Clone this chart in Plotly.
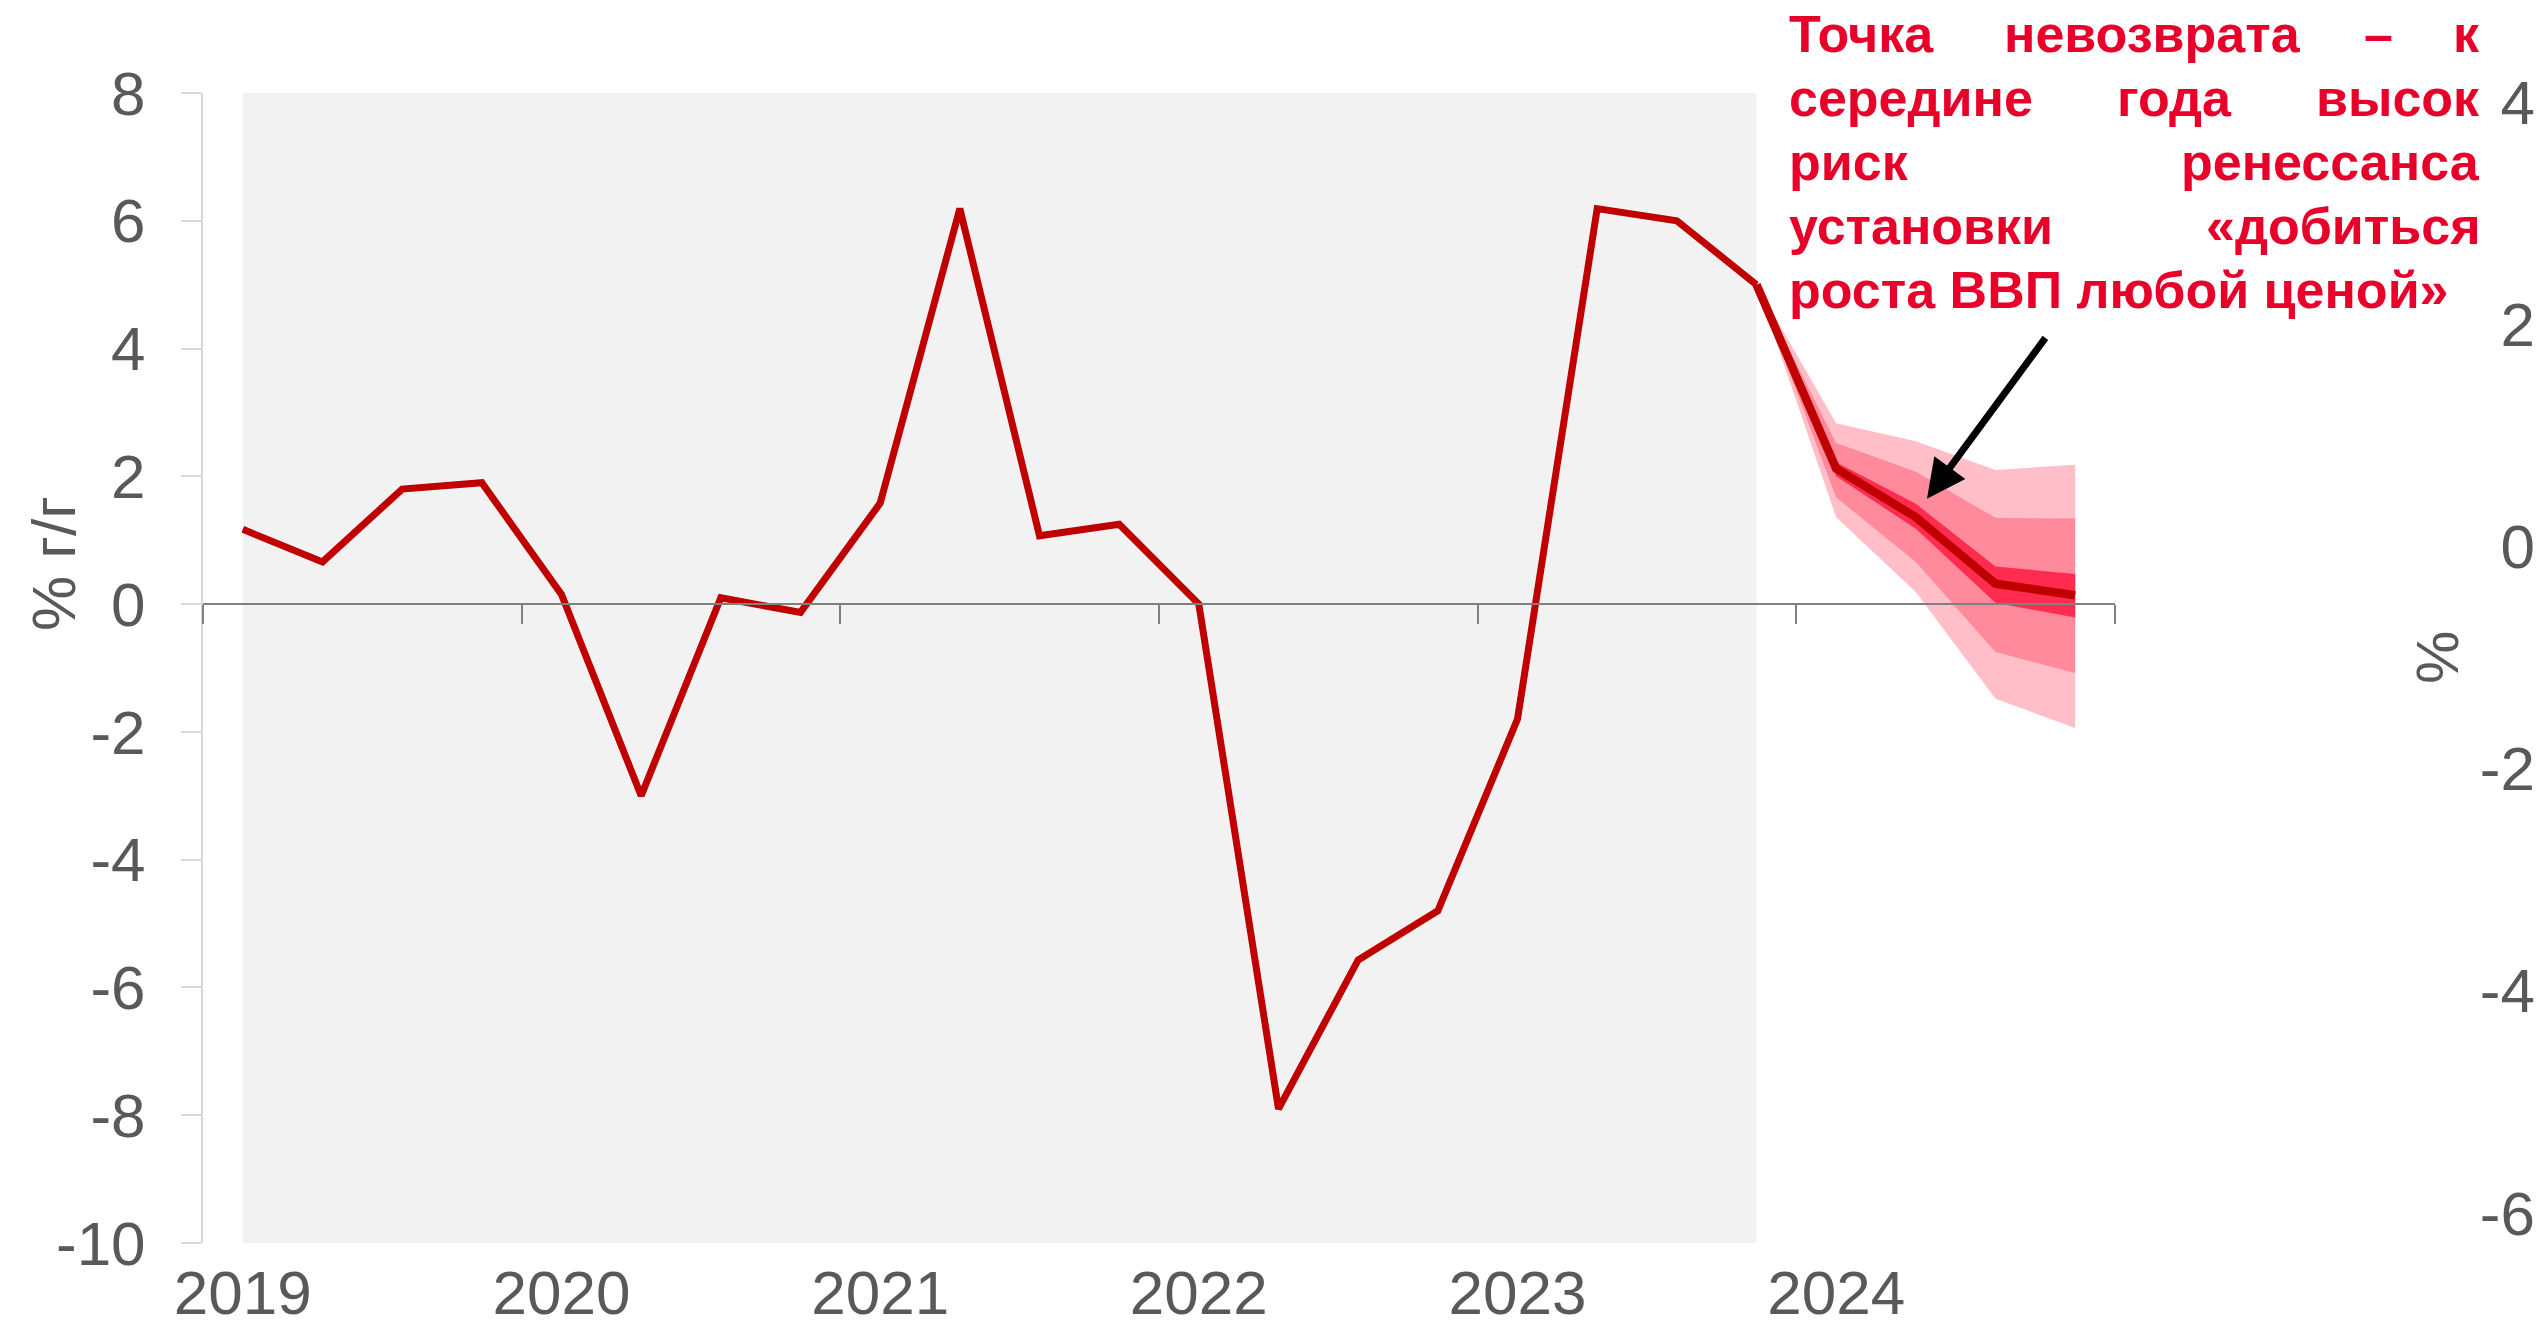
import plotly.graph_objects as go

# ---- data -------------------------------------------------------------
quarters = [
    "2019Q1", "2019Q2", "2019Q3", "2019Q4",
    "2020Q1", "2020Q2", "2020Q3", "2020Q4",
    "2021Q1", "2021Q2", "2021Q3", "2021Q4",
    "2022Q1", "2022Q2", "2022Q3", "2022Q4",
    "2023Q1", "2023Q2", "2023Q3", "2023Q4",
    "2024Q1", "2024Q2", "2024Q3", "2024Q4",
]
year_labels = ["2019", "2020", "2021", "2022", "2023", "2024"]

# GDP growth, % y/y (actual)
gdp_actual = [1.17, 0.66, 1.80, 1.90, 0.15, -3.00, 0.10, -0.13,
              1.58, 6.19, 1.07, 1.25, 0.00, -7.90, -5.57, -4.80,
              -1.80, 6.19, 6.00, 5.00]

# forecast fan, starting from the last actual quarter
forecast_quarters = ["2023Q4", "2024Q1", "2024Q2", "2024Q3", "2024Q4"]
fc_central = [5.0, 2.12, 1.36, 0.32, 0.14]
fc_inner_hi = [5.0, 2.22, 1.57, 0.59, 0.47]
fc_inner_lo = [5.0, 2.00, 1.18, 0.02, -0.21]
fc_mid_hi = [5.0, 2.52, 2.07, 1.35, 1.34]
fc_mid_lo = [5.0, 1.67, 0.66, -0.75, -1.08]
fc_outer_hi = [5.0, 2.83, 2.55, 2.10, 2.18]
fc_outer_lo = [5.0, 1.36, 0.19, -1.48, -1.94]

left_ticks = [-10, -8, -6, -4, -2, 0, 2, 4, 6, 8]
left_range = [-10, 8]
right_ticks = [-6, -4, -2, 0, 2, 4]
right_range = [-6.27, 4.08]

note_lines = [
    ["Точка", "невозврата", "–", "к"],
    ["середине", "года", "высок"],
    ["риск", "ренессанса"],
    ["установки", "«добиться"],
    ["роста ВВП любой ценой»"],
]

# ---- styling ----------------------------------------------------------
FONT = "Liberation Sans, Arial, sans-serif"
GREY_TXT = "#595959"
LINE_RED = "#C00000"
NOTE_RED = "#E8002B"
C_OUTER = "#FFBEC8"
C_MID = "#FF8A9B"
C_INNER = "#FF2C4F"

W, H = 2541, 1329
PLOT_L, PLOT_R, PLOT_T, PLOT_B = 203, 2115, 93, 1243
PAPER_W = W - PLOT_L
PAPER_H = PLOT_B - PLOT_T


def px(x):
    return (x - PLOT_L) / PAPER_W


def py(y):
    return (PLOT_B - y) / PAPER_H


def tick_text(values):
    # plain hyphen-minus for negative labels
    return [str(v) for v in values]


pos = {q: i for i, q in enumerate(quarters)}
x_hist = [pos[q] for q in quarters[:len(gdp_actual)]]
x_fc = [pos[q] for q in forecast_quarters]

fig = go.Figure()

# fan bands: widest first
for hi, lo, col in [(fc_outer_hi, fc_outer_lo, C_OUTER),
                    (fc_mid_hi, fc_mid_lo, C_MID),
                    (fc_inner_hi, fc_inner_lo, C_INNER)]:
    fig.add_trace(go.Scatter(
        x=x_fc + x_fc[::-1], y=hi + lo[::-1],
        fill="toself", fillcolor=col, mode="lines",
        line=dict(width=0, color=col), hoverinfo="skip", showlegend=False))

fig.add_trace(go.Scatter(x=x_fc, y=fc_central, mode="lines",
                         line=dict(color=LINE_RED, width=8.5),
                         showlegend=False))
fig.add_trace(go.Scatter(x=x_hist, y=gdp_actual, mode="lines",
                         line=dict(color=LINE_RED, width=7),
                         showlegend=False))

# carriers for the zero-line axis and the secondary y axis
fig.add_trace(go.Scatter(x=[None], y=[None], xaxis="x2", yaxis="y",
                         showlegend=False, hoverinfo="skip"))
fig.add_trace(go.Scatter(x=[None], y=[None], xaxis="x", yaxis="y2",
                         showlegend=False, hoverinfo="skip"))

# shaded history period
fig.add_shape(type="rect", xref="x", yref="paper",
              x0=x_hist[0], x1=x_hist[-1], y0=0, y1=1,
              fillcolor="#F2F2F2", line=dict(width=0), layer="below")

n = len(quarters)
year_pos = [pos[y + "Q1"] for y in year_labels]
boundaries = [p - 0.5 for p in year_pos] + [n - 0.5]
x_range = [-0.5, n - 0.5]
zero_frac = (0 - left_range[0]) / (left_range[1] - left_range[0])
x_dom = [0, (PLOT_R - PLOT_L) / PAPER_W]

fig.update_layout(
    width=W, height=H,
    margin=dict(l=PLOT_L, r=0, t=PLOT_T, b=H - PLOT_B),
    paper_bgcolor="white", plot_bgcolor="rgba(0,0,0,0)",
    font=dict(family=FONT, color=GREY_TXT, size=62),
    showlegend=False,
    xaxis=dict(domain=x_dom, range=x_range, tickvals=year_pos,
               ticktext=year_labels, showgrid=False, zeroline=False,
               showline=False, ticks="", ticklabelstandoff=8,
               tickfont=dict(size=62, color=GREY_TXT)),
    xaxis2=dict(domain=x_dom, range=x_range, overlaying="x",
                anchor="free", position=zero_frac, side="bottom",
                tickvals=boundaries, showticklabels=False,
                ticks="outside", ticklen=19, tickwidth=2,
                tickcolor="#808080", showline=True, linecolor="#808080",
                linewidth=2, showgrid=False, zeroline=False),
    yaxis=dict(range=left_range, tickvals=left_ticks,
               ticktext=tick_text(left_ticks), showgrid=False,
               zeroline=False, showline=True, linecolor="#D9D9D9",
               linewidth=2, ticks="outside", ticklen=20, tickwidth=2,
               tickcolor="#D9D9D9", ticklabelstandoff=23,
               tickfont=dict(size=62, color=GREY_TXT)),
    yaxis2=dict(range=right_range, tickvals=right_ticks,
                ticktext=tick_text(right_ticks),
                overlaying="y", anchor="free", position=1.0, side="left",
                showgrid=False, zeroline=False, showline=False, ticks="",
                ticklabelstandoff=6,
                tickfont=dict(size=62, color=GREY_TXT)),
)

# axis titles
fig.add_annotation(text="% г/г", xref="paper", yref="paper",
                   x=px(53), y=py(564), showarrow=False, textangle=-90,
                   font=dict(size=62, color=GREY_TXT),
                   xanchor="center", yanchor="middle")
fig.add_annotation(text="%", xref="paper", yref="paper",
                   x=px(2437), y=py(658), showarrow=False, textangle=-90,
                   font=dict(size=60, color=GREY_TXT),
                   xanchor="center", yanchor="middle")

# justified callout: words pinned to the block edges
NOTE_FS = 52
NOTE_LEFT, NOTE_RIGHT = 1787, 2482
baselines = [53, 117, 181, 245, 309]
mid_centres = {"невозврата": 2152, "–": 2378, "года": 2174}
for words, base in zip(note_lines, baselines):
    yc = py(base - 0.36 * NOTE_FS)
    for i, w in enumerate(words):
        if i == 0:
            x, anchor = px(NOTE_LEFT), "left"
        elif i == len(words) - 1:
            x, anchor = px(NOTE_RIGHT), "right"
        else:
            x, anchor = px(mid_centres[w]), "center"
        fig.add_annotation(text="<b>%s</b>" % w, xref="paper", yref="paper",
                           x=x, y=yc, xanchor=anchor, yanchor="middle",
                           showarrow=False,
                           font=dict(size=NOTE_FS, color=NOTE_RED,
                                     family=FONT))

# pointer into the fan
fig.add_annotation(x=21.14, y=1.65, ax=22.64, ay=4.19,
                   xref="x", yref="y", axref="x", ayref="y",
                   text="", showarrow=True, arrowhead=2, arrowsize=1.1,
                   arrowwidth=7, arrowcolor="black", standoff=0)

fig.write_html("out.html")
